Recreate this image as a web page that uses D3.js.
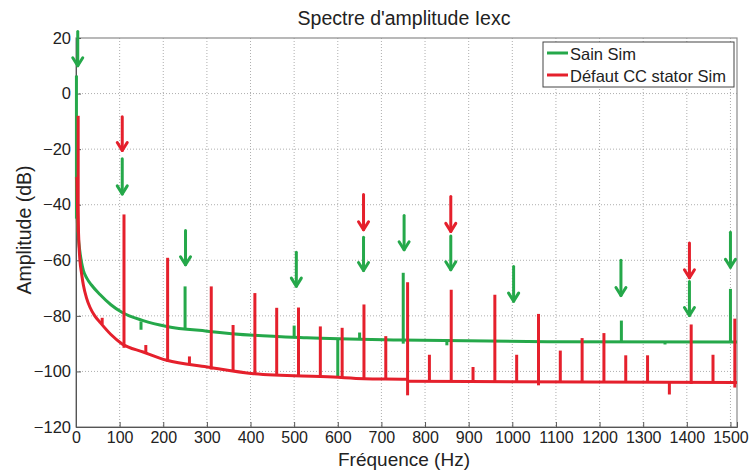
<!DOCTYPE html>
<html>
<head>
<meta charset="utf-8">
<script src="https://cdn.jsdelivr.net/npm/d3@7"></script>
<style>
  body { margin: 0; background: #fff; }
  text { font-family: "Liberation Sans", Arial, sans-serif; fill: #222; }
</style>
</head>
<body>
<div class="canvas"></div>
<script>
const dims = { width: 750, height: 470 };
const margin = { top: 38, right: 13, bottom: 43, left: 76 };

const seriesNames = ["Sain Sim", "Défaut CC stator Sim"];
const seriesColors = ["#25a84a", "#e5202c"];

const xTicks = [0, 100, 200, 300, 400, 500, 600, 700, 800, 900, 1000, 1100, 1200, 1300, 1400, 1500];
const yTicks = [20, 0, -20, -40, -60, -80, -100, -120];

// background floor of each spectrum: [freq, dB]
const greenFloor = [
  [1, -30], [2, -38], [3, -45], [5, -51], [9, -57], [13, -61], [17, -63.7], [25, -66.5],
  [35, -68.8], [55, -72.3], [80, -76], [105, -78.7], [154, -81.7], [208, -83.8], [300, -85.5],
  [407, -87], [529, -87.9], [743, -88.7], [1080, -89.3], [1515, -89.4]
];
const redFloor = [
  [2, -30], [3, -38], [5, -47], [7, -55], [9, -60], [13, -65], [17, -69], [24, -73.5],
  [32, -76.9], [43, -80], [55, -82.3], [80, -86.7], [105, -90], [154, -93], [208, -96],
  [300, -98.4], [407, -100.8], [590, -102], [660, -102.6], [757, -102.8], [762, -103.5],
  [1000, -103.7], [1515, -104]
];

// spikes: [freq, base dB, peak dB]
const greenSpikes = [
  [1, -45, 6.5], [149, -82, -85], [250, -85, -69.4], [500, -87.8, -83.5],
  [600, -88, -102], [650, -88, -86], [750, -90, -64.5], [850, -88.9, -90.6],
  [1250, -89.2, -81.7], [1350, -89.2, -90.3], [1500, -89.3, -70.3]
];
const redSpikes = [
  [5, -50, -8], [60, -83, -80.7], [110, -91.5, -43.5], [160, -93.3, -90.5],
  [210, -96.5, -59.1], [260, -97.2, -94.6], [310, -99.3, -69.4], [360, -99.8, -83.3],
  [410, -101.2, -71.8], [460, -101.6, -77.1], [510, -101.9, -77], [560, -102.2, -83.8],
  [610, -102.4, -84.3], [660, -102.6, -75.9], [710, -102.7, -87.3], [760, -108.6, -67.9],
  [810, -103.6, -94], [860, -103.6, -70.6], [910, -103.6, -98.4], [960, -103.7, -72.4],
  [1010, -103.7, -94], [1060, -105, -79.3], [1110, -103.8, -92.5], [1160, -103.8, -88],
  [1210, -103.8, -86.2], [1260, -103.9, -94.2], [1310, -103.9, -94.2], [1360, -108.3, -103.9],
  [1410, -104.5, -83.1], [1460, -104, -94], [1510, -105.8, -81]
];

// annotation arrows: [freq, top dB, tip dB, series]
const arrows = [
  [4, 22.3, 10, 0], [106, -8.3, -20.5, 1], [106, -23.5, -36.1, 0],
  [251, -49.3, -61.6, 0], [505, -57.1, -69.3, 0],
  [659, -36.3, -49, 1], [659, -51.7, -63.7, 0], [752, -43.9, -56.2, 0],
  [859, -37, -49.6, 1], [859, -51.3, -63.4, 0], [1003, -62.2, -74.7, 0],
  [1249, -60, -72.7, 0], [1406, -53.8, -66.3, 1], [1406, -67.6, -79.9, 0],
  [1500, -49.9, -62.5, 0]
];

const svg = d3.select(".canvas").append("svg")
  .attr("width", dims.width)
  .attr("height", dims.height);

const x = d3.scaleLinear().domain([0, 1515]).range([margin.left, dims.width - margin.right]);
const y = d3.scaleLinear().domain([-120, 20]).range([dims.height - margin.bottom, margin.top]);

// grid
svg.append("g").selectAll("line").data(xTicks.slice(1)).join("line")
  .attr("x1", d => x(d)).attr("x2", d => x(d))
  .attr("y1", y(20)).attr("y2", y(-120))
  .attr("stroke", "#999").attr("stroke-width", 0.8).attr("stroke-dasharray", "1,2");
svg.append("g").selectAll("line").data(yTicks.slice(1, -1)).join("line")
  .attr("x1", x(0)).attr("x2", x(1515))
  .attr("y1", d => y(d)).attr("y2", d => y(d))
  .attr("stroke", "#999").attr("stroke-width", 0.8).attr("stroke-dasharray", "1,2");

// frame
svg.append("rect")
  .attr("x", x(0)).attr("y", y(20))
  .attr("width", x(1515) - x(0)).attr("height", y(-120) - y(20))
  .attr("fill", "none").attr("stroke", "#8a8a8a").attr("stroke-width", 1.2);

// axes
svg.append("g")
  .attr("transform", `translate(0,${y(-120)})`)
  .call(d3.axisBottom(x).tickValues(xTicks).tickFormat(d3.format("d")).tickSize(-5).tickPadding(5))
  .call(g => g.select(".domain").attr("stroke", "#555"))
  .call(g => g.selectAll(".tick line").attr("stroke", "#555"))
  .call(g => g.selectAll("text").attr("font-size", 16).attr("fill", "#222")
    .attr("font-family", "Liberation Sans, Arial, sans-serif"));

svg.append("g")
  .attr("transform", `translate(${x(0)},0)`)
  .call(d3.axisLeft(y).tickValues(yTicks).tickSize(-5).tickPadding(5))
  .call(g => g.select(".domain").attr("stroke", "#555"))
  .call(g => g.selectAll(".tick line").attr("stroke", "#555"))
  .call(g => g.selectAll("text").attr("font-size", 16.5).attr("fill", "#222")
    .attr("font-family", "Liberation Sans, Arial, sans-serif"));

const line = d3.line().x(d => x(d[0])).y(d => y(d[1])).curve(d3.curveMonotoneX);

function drawSeries(floor, spikes, color) {
  const g = svg.append("g");
  g.append("path").datum(floor)
    .attr("d", line)
    .attr("fill", "none").attr("stroke", color).attr("stroke-width", 3);
  g.selectAll("line").data(spikes).join("line")
    .attr("x1", d => x(d[0])).attr("x2", d => x(d[0]))
    .attr("y1", d => y(d[1])).attr("y2", d => y(d[2]))
    .attr("stroke", color).attr("stroke-width", 3);
}
drawSeries(greenFloor, greenSpikes, seriesColors[0]);
drawSeries(redFloor, redSpikes, seriesColors[1]);

// arrows
const ag = svg.append("g").selectAll("g").data(arrows).join("g")
  .attr("stroke", d => seriesColors[d[3]]).attr("stroke-width", 3)
  .attr("fill", "none").attr("stroke-linecap", "round").attr("stroke-linejoin", "round");
ag.append("line")
  .attr("x1", d => x(d[0])).attr("x2", d => x(d[0]))
  .attr("y1", d => y(d[1])).attr("y2", d => y(d[2]));
ag.append("path")
  .attr("d", d => {
    const px = x(d[0]), py = y(d[2]);
    return `M${px - 5},${py - 8}L${px},${py}L${px + 5},${py - 8}`;
  });

// legend
const legend = svg.append("g");
legend.append("rect")
  .attr("x", 543).attr("y", 42).attr("width", 191).attr("height", 45)
  .attr("fill", "#fff").attr("stroke", "#444").attr("stroke-width", 1);
seriesNames.forEach((name, i) => {
  legend.append("line")
    .attr("x1", 547).attr("x2", 568)
    .attr("y1", 53 + i * 22).attr("y2", 53 + i * 22)
    .attr("stroke", seriesColors[i]).attr("stroke-width", 3);
  legend.append("text")
    .attr("x", 570).attr("y", 59.5 + i * 22)
    .attr("font-size", 16.5)
    .text(name);
});

// title and labels
svg.append("text")
  .attr("x", 404).attr("y", 25)
  .attr("text-anchor", "middle").attr("font-size", 19.5)
  .text("Spectre d'amplitude Iexc");

svg.append("text")
  .attr("x", 404).attr("y", 466)
  .attr("text-anchor", "middle").attr("font-size", 19)
  .text("Fréquence (Hz)");

svg.append("text")
  .attr("transform", "translate(31,230) rotate(-90)")
  .attr("text-anchor", "middle").attr("font-size", 19.5)
  .text("Amplitude (dB)");
</script>
</body>
</html>
